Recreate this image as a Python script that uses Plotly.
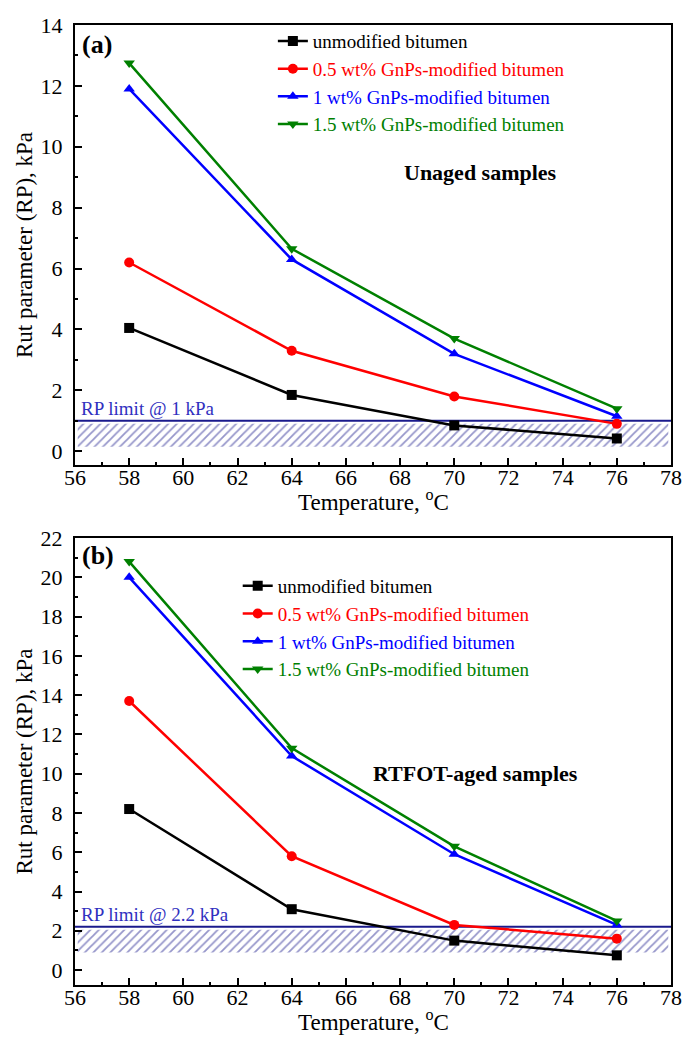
import plotly.graph_objects as go
from plotly.subplots import make_subplots

temperature = [58, 64, 70, 76]
series_names = ["unmodified bitumen", "0.5 wt% GnPs-modified bitumen",
                "1 wt% GnPs-modified bitumen", "1.5 wt% GnPs-modified bitumen"]
colors = ["#000000", "#ff0000", "#0000ff", "#008000"]
symbols = ["square", "circle", "triangle-up", "triangle-down"]

unaged_unmod = [4.05, 1.85, 0.85, 0.42]
unaged_05 = [6.2, 3.3, 1.8, 0.9]
unaged_1 = [11.9, 6.3, 3.2, 1.15]
unaged_15 = [12.75, 6.65, 3.7, 1.4]

aged_unmod = [8.2, 3.1, 1.5, 0.75]
aged_05 = [13.7, 5.8, 2.3, 1.6]
aged_1 = [20.0, 10.9, 5.9, 2.3]
aged_15 = [20.8, 11.3, 6.3, 2.5]

rp_limit_a = 1.0
rp_limit_b = 2.2
hatch_a = [0.15, 0.9]
hatch_b = [0.9, 2.05]
x_range = [56, 78]
hatch_x = [56.1, 77.9]

FONT = "Liberation Serif"

fig = make_subplots(rows=2, cols=1, vertical_spacing=0.0)

def add_hatch(row, lo_hi):
    fig.add_trace(go.Scatter(
        x=[hatch_x[0], hatch_x[1], hatch_x[1], hatch_x[0], hatch_x[0]],
        y=[lo_hi[0], lo_hi[0], lo_hi[1], lo_hi[1], lo_hi[0]],
        mode="lines", fill="toself", line=dict(width=0),
        fillcolor="rgba(0,0,0,0)",
        fillpattern=dict(shape="/", fgcolor="#2e2e96", bgcolor="white", size=6, solidity=0.3),
        showlegend=False, hoverinfo="skip"), row=row, col=1)

def add_limit(row, val):
    fig.add_trace(go.Scatter(
        x=x_range, y=[val, val], mode="lines",
        line=dict(color="#1a1a8c", width=2), showlegend=False, hoverinfo="skip"),
        row=row, col=1)

add_hatch(1, hatch_a)
add_limit(1, rp_limit_a)
add_hatch(2, hatch_b)
add_limit(2, rp_limit_b)

top_data = [unaged_unmod, unaged_05, unaged_1, unaged_15]
bot_data = [aged_unmod, aged_05, aged_1, aged_15]

for i in range(4):
    nm = f"<span style='color:{colors[i]}'>{series_names[i]}</span>"
    fig.add_trace(go.Scatter(
        x=temperature, y=top_data[i], mode="lines+markers", name=nm,
        line=dict(color=colors[i], width=2.5),
        marker=dict(symbol=symbols[i], size=10, color=colors[i]),
        legend="legend", legendgroup=f"a{i}"), row=1, col=1)
for i in range(4):
    nm = f"<span style='color:{colors[i]}'>{series_names[i]}</span>"
    fig.add_trace(go.Scatter(
        x=temperature, y=bot_data[i], mode="lines+markers", name=nm,
        line=dict(color=colors[i], width=2.5),
        marker=dict(symbol=symbols[i], size=10, color=colors[i]),
        legend="legend2", legendgroup=f"b{i}"), row=2, col=1)

axis_common = dict(
    showline=True, linecolor="black", linewidth=2, mirror=True,
    ticks="inside", ticklen=7, tickwidth=2, tickcolor="black",
    showgrid=False, zeroline=False, automargin=False,
    tickfont=dict(family=FONT, size=22, color="black"),
    title_font=dict(family=FONT, size=23, color="black"),
)

fig.update_xaxes(range=x_range, dtick=2, ticklabelstandoff=-8,
                 minor=dict(dtick=1, ticks="inside", ticklen=3, tickwidth=2, tickcolor="black"),
                 **axis_common)
fig.update_yaxes(minor=dict(dtick=1, ticks="inside", ticklen=3, tickwidth=2, tickcolor="black"),
                 title_text="Rut parameter (RP), kPa", title_standoff=2, dtick=2,
                 ticklabelstandoff=6, **axis_common)
fig.update_yaxes(range=[-0.45, 14], row=1, col=1)
fig.update_yaxes(range=[-0.76, 22], row=2, col=1)

fig.update_layout(
    width=683, height=1044,
    margin=dict(l=75, r=12, t=25, b=59),
    plot_bgcolor="white", paper_bgcolor="white",
    font=dict(family=FONT, size=19, color="black"),
    yaxis=dict(domain=[0.5417, 1.0]),
    yaxis2=dict(domain=[0.0, 0.4656]),
    xaxis=dict(anchor="y"),
    xaxis2=dict(anchor="y2"),
    legend=dict(x=0.332, y=1.003, xanchor="left", yanchor="top", bgcolor="rgba(0,0,0,0)",
                font=dict(family=FONT, size=19), tracegroupgap=0, itemwidth=30),
    legend2=dict(x=0.273, y=0.4354, xanchor="left", yanchor="top", bgcolor="rgba(0,0,0,0)",
                 font=dict(family=FONT, size=19), tracegroupgap=0, itemwidth=30),
    showlegend=True,
)

annos = [
    dict(x=56.2, y=13.35, xref="x", yref="y", text="<b>(a)</b>", font=dict(size=26), xanchor="left"),
    dict(x=70.95, y=9.15, xref="x", yref="y", text="<b>Unaged samples</b>", font=dict(size=22)),
    dict(x=56.15, y=1.42, xref="x", yref="y", text="RP limit @ 1 kPa", font=dict(size=19, color="#3030c0"), xanchor="left"),
    dict(x=56.2, y=21.1, xref="x2", yref="y2", text="<b>(b)</b>", font=dict(size=26), xanchor="left"),
    dict(x=70.8, y=10.0, xref="x2", yref="y2", text="<b>RTFOT-aged samples</b>", font=dict(size=22)),
    dict(x=56.15, y=2.85, xref="x2", yref="y2", text="RP limit @ 2.2 kPa", font=dict(size=19, color="#3030c0"), xanchor="left"),
    dict(x=0.5, y=-36 / 440, xref="x domain", yref="y domain", text="Temperature, <sup>o</sup>C",
         font=dict(size=23), yanchor="middle"),
    dict(x=0.5, y=-36 / 447, xref="x2 domain", yref="y2 domain", text="Temperature, <sup>o</sup>C",
         font=dict(size=23), yanchor="middle"),
]
for a in annos:
    a.setdefault("showarrow", False)
    a["font"].setdefault("family", FONT)
    a["font"].setdefault("color", "black")
fig.update_layout(annotations=annos)

fig.write_html("out.html", config={"displayModeBar": False},
               post_script="document.body.style.margin='0';")
